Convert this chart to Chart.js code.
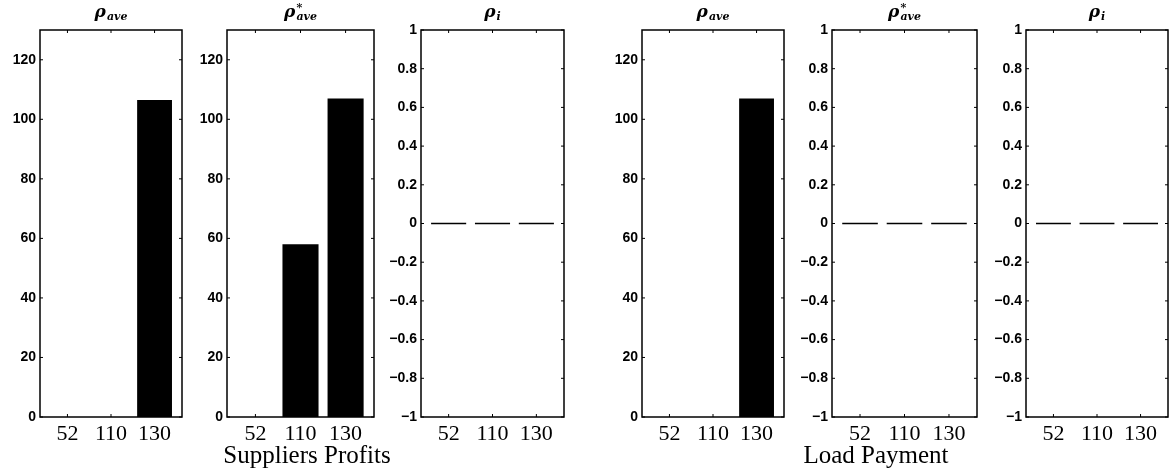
<!DOCTYPE html>
<html>
<head>
<meta charset="utf-8">
<script src="https://cdn.jsdelivr.net/npm/chart.js@4.4.0/dist/chart.umd.min.js"></script>
<style>
body { margin: 0; background: #fff; width: 1169px; height: 476px; position: relative; overflow: hidden; }
canvas { position: absolute; top: 0; }
.etiqueta { position: absolute; top: 441px; font-family: 'Liberation Serif', serif; font-size: 25px; color: #000; white-space: nowrap; transform: translateX(-50%); }
</style>
</head>
<body>
<canvas id="g1"></canvas>
<canvas id="g2"></canvas>
<canvas id="g3"></canvas>
<canvas id="g4"></canvas>
<canvas id="g5"></canvas>
<canvas id="g6"></canvas>
<div class="etiqueta" style="left:307px">Suppliers Profits</div>
<div class="etiqueta" style="left:876px">Load Payment</div>
<script>
// Datos
const categorias = ['52', '110', '130'];
const profitsAve = [0, 0, 106.5];
const profitsAveStar = [0, 58, 107];
const profitsI = [0, 0, 0];
const paymentAve = [0, 0, 107];
const paymentAveStar = [0, 0, 0];
const paymentI = [0, 0, 0];
const ticksGrandes = [0, 20, 40, 60, 80, 100, 120];
const ticksUnidad = [-1, -0.8, -0.6, -0.4, -0.2, 0, 0.2, 0.4, 0.6, 0.8, 1];

// Posicion de cada panel en la pagina
const paneles = [
    { id: 'g1', izq: 0, ancho: 142, datos: profitsAve, min: 0, max: 130, ticks: ticksGrandes, sup: '', sub: 'ave' },
    { id: 'g2', izq: 187, ancho: 147, datos: profitsAveStar, min: 0, max: 130, ticks: ticksGrandes, sup: '*', sub: 'ave' },
    { id: 'g3', izq: 381, ancho: 143, datos: profitsI, min: -1, max: 1, ticks: ticksUnidad, sup: '', sub: 'i' },
    { id: 'g4', izq: 602, ancho: 142, datos: paymentAve, min: 0, max: 130, ticks: ticksGrandes, sup: '', sub: 'ave' },
    { id: 'g5', izq: 792, ancho: 145, datos: paymentAveStar, min: -1, max: 1, ticks: ticksUnidad, sup: '*', sub: 'ave' },
    { id: 'g6', izq: 986, ancho: 142, datos: paymentI, min: -1, max: 1, ticks: ticksUnidad, sup: '', sub: 'i' }
];

const ANCHO_EJE_Y = 40;
const ALTO = 476;

// Marco tipo MATLAB con marcas hacia adentro y titulo con subindice
const marcoPlugin = {
    id: 'marco',
    afterDraw(chart, args, opts) {
        const { ctx, chartArea: a, scales } = chart;
        ctx.save();
        ctx.strokeStyle = '#000';
        ctx.lineWidth = 1.5;
        ctx.strokeRect(a.left, a.top, a.right - a.left, a.bottom - a.top);

        ctx.lineWidth = 1;
        const largo = 3;
        ctx.beginPath();
        scales.y.ticks.forEach(t => {
            const y = scales.y.getPixelForValue(t.value);
            ctx.moveTo(a.left, y); ctx.lineTo(a.left + largo, y);
            ctx.moveTo(a.right, y); ctx.lineTo(a.right - largo, y);
        });
        scales.x.ticks.forEach(t => {
            const x = scales.x.getPixelForValue(t.value);
            ctx.moveTo(x, a.bottom); ctx.lineTo(x, a.bottom - largo);
            ctx.moveTo(x, a.top); ctx.lineTo(x, a.top + largo);
        });
        ctx.stroke();

        // Titulo: rho con superindice y subindice
        ctx.fillStyle = '#000';
        ctx.textBaseline = 'alphabetic';
        const fRho = 'bold italic 17px "DejaVu Serif"';
        const fSub = 'bold italic 11px "DejaVu Serif"';
        ctx.font = fRho;
        const wRho = ctx.measureText('ρ').width;
        ctx.font = fSub;
        const wSub = ctx.measureText(opts.sub).width;
        const total = wRho + 1 + wSub;
        const x0 = (a.left + a.right) / 2 - total / 2;
        ctx.font = fRho;
        ctx.fillText('ρ', x0, 17);
        ctx.font = fSub;
        ctx.fillText(opts.sub, x0 + wRho + 1, 20);
        if (opts.sup) {
            ctx.fillText(opts.sup, x0 + wRho + 1, 11);
        }
        ctx.restore();
    }
};

function etiquetaY(v) {
    if (Number.isInteger(v)) return String(v).replace('-', '\u2212');
    return v.toFixed(1).replace('-', '\u2212');
}

function crearPanel(p) {
    const canvas = document.getElementById(p.id);
    const anchoCanvas = Math.min(ANCHO_EJE_Y + p.ancho + 4, 1169 - p.izq);
    canvas.width = anchoCanvas;
    canvas.height = ALTO;
    canvas.style.left = p.izq + 'px';
    canvas.style.width = anchoCanvas + 'px';
    canvas.style.height = ALTO + 'px';

    // Las barras en cero solo se ven como trazo en los paneles de -1 a 1
    const conNegativos = p.min < 0;

    new Chart(canvas.getContext('2d'), {
        type: 'bar',
        data: {
            datasets: [{
                data: p.datos.map((v, i) => ({ x: i + 1, y: v })),
                backgroundColor: '#000',
                borderWidth: 0,
                minBarLength: conNegativos ? 1.6 : 0,
                barPercentage: 0.8,
                categoryPercentage: 1
            }]
        },
        plugins: [marcoPlugin],
        options: {
            responsive: false,
            animation: false,
            devicePixelRatio: 1,
            layout: { padding: { top: 30, right: anchoCanvas - ANCHO_EJE_Y - p.ancho, left: 0, bottom: 0 } },
            plugins: {
                legend: { display: false },
                tooltip: { enabled: false },
                marco: { sup: p.sup, sub: p.sub }
            },
            scales: {
                x: {
                    type: 'linear',
                    offset: false,
                    min: 0.37,
                    max: 3.63,
                    grid: { display: false, drawTicks: false, offset: false },
                    border: { display: false },
                    afterBuildTicks: scale => { scale.ticks = categorias.map((c, i) => ({ value: i + 1 })); },
                    afterFit: scale => { scale.height = 59; },
                    ticks: {
                        autoSkip: false,
                        maxRotation: 0,
                        padding: 4,
                        color: '#000',
                        font: { family: 'Liberation Serif', size: 22 },
                        callback: v => categorias[v - 1]
                    }
                },
                y: {
                    min: p.min,
                    max: p.max,
                    grid: { display: false, drawTicks: false },
                    border: { display: false },
                    afterBuildTicks: scale => { scale.ticks = p.ticks.map(v => ({ value: v })); },
                    afterFit: scale => { scale.width = ANCHO_EJE_Y; },
                    ticks: {
                        padding: 4,
                        color: '#000',
                        font: { family: 'Liberation Sans', size: 14, weight: 'bold' },
                        callback: v => etiquetaY(v)
                    }
                }
            }
        }
    });
}

paneles.forEach(crearPanel);
</script>
</body>
</html>
